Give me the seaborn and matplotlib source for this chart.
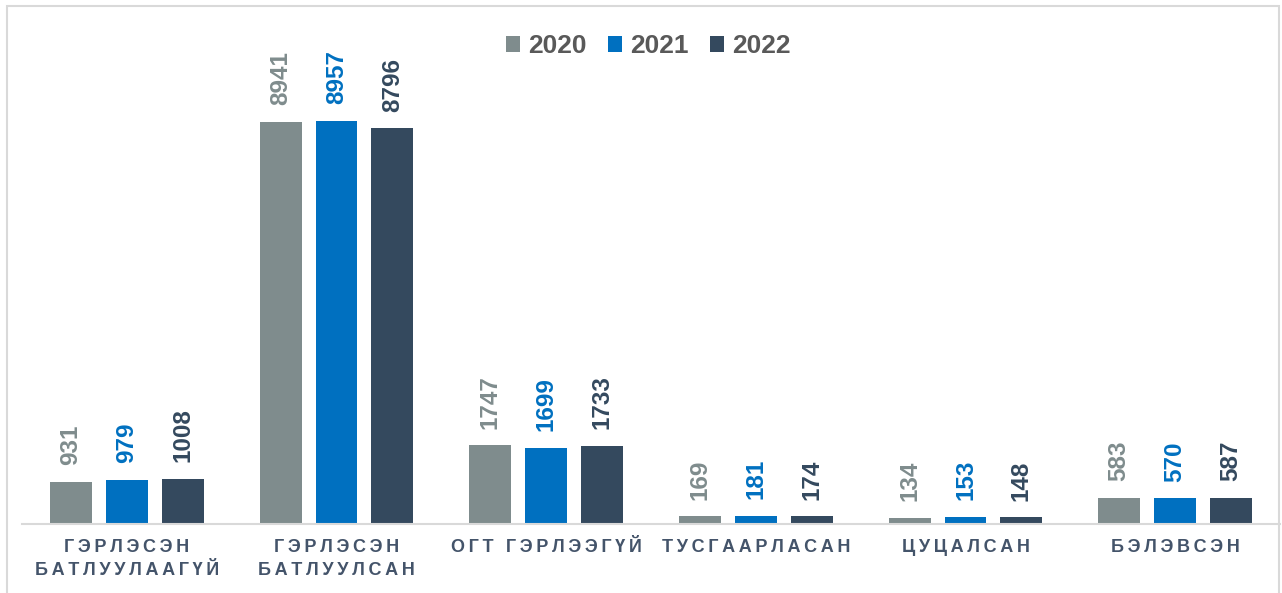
import pandas as pd
import matplotlib
matplotlib.use("Agg")
import matplotlib.pyplot as plt
from matplotlib.patches import Rectangle
import seaborn as sns

categories = ["ГЭРЛЭСЭН\nБАТЛУУЛААГҮЙ", "ГЭРЛЭСЭН\nБАТЛУУЛСАН", "ОГТ ГЭРЛЭЭГҮЙ",
              "ТУСГААРЛАСАН", "ЦУЦАЛСАН", "БЭЛЭВСЭН"]
years = ["2020", "2021", "2022"]
v2020 = [931, 8941, 1747, 169, 134, 583]
v2021 = [979, 8957, 1699, 181, 153, 570]
v2022 = [1008, 8796, 1733, 174, 148, 587]
colors = ["#7F8C8D", "#0070C0", "#34495E"]

rows = []
for year, vals in zip(years, [v2020, v2021, v2022]):
    for cat, v in zip(categories, vals):
        rows.append({"cat": cat, "year": year, "value": v})
df = pd.DataFrame(rows)

sns.set_style("white")
plt.rcParams["font.family"] = ["Liberation Sans", "DejaVu Sans"]

W, H = 1282, 593
fig = plt.figure(figsize=(W / 100, H / 100), dpi=100)
ax = fig.add_axes([22 / W, (H - 524) / H, 1258 / W, 450 / H])

sns.barplot(data=df, x="cat", y="value", hue="year", palette=colors,
            saturation=1, width=0.8, gap=0.25, linewidth=0, ax=ax)
ax.set_ylim(0, 10000)
ax.set_xlim(-0.5, len(categories) - 0.5)

# подписи значений
for cont, c in zip(ax.containers, colors):
    ax.bar_label(cont, rotation=90, padding=12, color=c,
                 fontweight="bold", fontsize=17.5)

# разреженные подписи категорий
TS = "\u2009"
def spaced(s):
    return "\n".join((TS + " " + TS).join(TS.join(w) for w in line.split(" "))
                     for line in s.split("\n"))

ax.set_xticks(range(len(categories)))
ax.set_xticklabels([spaced(c) for c in categories], fontsize=13,
                   fontweight="bold", color="#44546A", linespacing=1.45)
ax.tick_params(axis="x", length=0, pad=11)
ax.set_yticks([])
ax.set_xlabel("")
ax.set_ylabel("")
for s in ["top", "left", "right"]:
    ax.spines[s].set_visible(False)
ax.spines["bottom"].set_color("#D9D9D9")
ax.spines["bottom"].set_linewidth(1.5)

leg = ax.legend(loc="center", bbox_to_anchor=(0.5055, 1 - 46 / H),
                bbox_transform=fig.transFigure, ncol=3, frameon=False,
                prop={"weight": "bold", "size": 19}, handlelength=0.55,
                handleheight=0.55, columnspacing=0.8, handletextpad=0.3)
for t in leg.get_texts():
    t.set_color("#595959")

fig.patches.append(Rectangle((7 / W, -0.1), 1272 / W, 1.1 - 6 / H,
                             transform=fig.transFigure, fill=False,
                             edgecolor="#D9D9D9", linewidth=1.5))

fig.savefig("out.png", dpi=100)
